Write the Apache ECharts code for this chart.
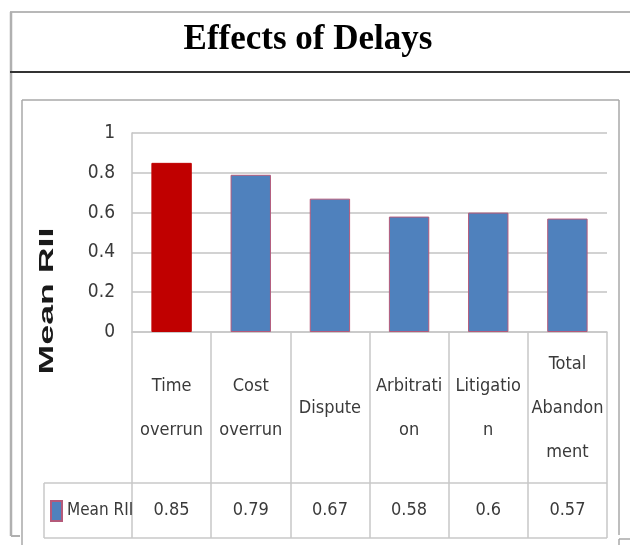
<!DOCTYPE html>
<html>
<head>
<meta charset="utf-8">
<script src="https://cdn.jsdelivr.net/npm/echarts@6/dist/echarts.min.js"></script>
<style>
  html, body { margin: 0; padding: 0; background: #ffffff; }
  #chart { width: 630px; height: 545px; }
</style>
</head>
<body>
<div id="chart"></div>
<script>
// ---- data ----
const chartTitle = 'Effects of Delays';
const axisTitle = 'Mean RII';
const seriesName = 'Mean RII';
const categories = ['Time\noverrun', 'Cost\noverrun', 'Dispute', 'Arbitrati\non', 'Litigatio\nn', 'Total\nAbandon\nment'];
const meanRII = [0.85, 0.79, 0.67, 0.58, 0.6, 0.57];
const yTicks = [0, 0.2, 0.4, 0.6, 0.8, 1];

// ---- styles ----
const highlightIndex = 0;
const highlightColor = '#C00000';
const barColor = '#4F81BD';
const narrowFont = "'Liberation Sans Narrow', 'DejaVu Sans Condensed', 'Roboto Condensed', 'Liberation Sans', sans-serif";
const textColor = '#3a3a3a';
const tableLine = '#c8c8c8';
const frameLine = '#a8a8a8';
const labelSize = 18;

const chart = echarts.init(document.getElementById('chart'), null, { renderer: 'canvas' });

const barData = meanRII.map((v, i) => i === highlightIndex
  ? { value: v, itemStyle: { color: highlightColor, borderColor: highlightColor } }
  : { value: v });

const option = {
  backgroundColor: '#ffffff',
  animation: false,
  title: {
    text: chartTitle,
    left: 308,
    textAlign: 'center',
    top: 22,
    padding: 0,
    textStyle: { fontFamily: "'Liberation Serif', 'DejaVu Serif', serif", fontWeight: 'bold', fontSize: 35, color: '#000000' }
  },
  legend: {
    data: [seriesName],
    left: 50,
    top: 500,
    padding: 0,
    itemWidth: 11,
    itemHeight: 20,
    itemGap: 5,
    icon: 'rect',
    textStyle: { fontFamily: narrowFont, fontSize: 17, color: textColor, padding: [0, 0, 0, 0] }
  },
  grid: { left: 132, right: 23, top: 133, bottom: 213, containLabel: false },
  xAxis: [
    {
      type: 'category',
      data: categories,
      position: 'bottom',
      axisLine: { show: true, lineStyle: { color: tableLine, width: 1.5 } },
      axisTick: { show: true, length: 206, lineStyle: { color: tableLine, width: 1.5 } },
      axisLabel: {
        interval: 0,
        margin: 76,
        verticalAlign: 'middle',
        align: 'center',
        lineHeight: 44,
        fontFamily: narrowFont,
        fontSize: labelSize,
        color: textColor
      },
      splitLine: { show: false }
    },
    {
      type: 'category',
      data: meanRII.map(v => String(v)),
      position: 'bottom',
      axisLine: { show: false },
      axisTick: { show: false },
      axisLabel: {
        interval: 0,
        margin: 178,
        verticalAlign: 'middle',
        align: 'center',
        fontFamily: narrowFont,
        fontSize: labelSize,
        color: textColor
      },
      splitLine: { show: false }
    }
  ],
  yAxis: {
    type: 'value',
    min: yTicks[0],
    max: yTicks[yTicks.length - 1],
    interval: yTicks[1] - yTicks[0],
    axisLine: { show: true, lineStyle: { color: '#c4c4c4', width: 1.5 } },
    axisTick: { show: false },
    axisLabel: { margin: 17, fontFamily: narrowFont, fontSize: labelSize + 1, color: textColor },
    splitLine: { show: true, lineStyle: { color: '#d2d2d2', width: 2 } }
  },
  series: [
    {
      name: seriesName,
      type: 'bar',
      xAxisIndex: 0,
      barWidth: '51%',
      data: barData,
      itemStyle: { color: barColor, borderColor: '#b45a7a', borderWidth: 1 }
    }
  ],
  graphic: [
    // outer frame
    { type: 'line', shape: { x1: 10, y1: 12, x2: 630, y2: 12 }, style: { stroke: '#b8b8b8', lineWidth: 2 } },
    { type: 'line', shape: { x1: 11, y1: 12, x2: 11, y2: 536 }, style: { stroke: '#b0b0b0', lineWidth: 2.5 } },
    { type: 'line', shape: { x1: 11, y1: 536, x2: 20, y2: 536 }, style: { stroke: '#b0b0b0', lineWidth: 2 } },
    // title separator
    { type: 'line', shape: { x1: 10, y1: 72, x2: 630, y2: 72 }, style: { stroke: '#333333', lineWidth: 2 } },
    // inner frame
    { type: 'line', shape: { x1: 22, y1: 100, x2: 619, y2: 100 }, style: { stroke: frameLine, lineWidth: 1.5 } },
    { type: 'line', shape: { x1: 22, y1: 100, x2: 22, y2: 545 }, style: { stroke: frameLine, lineWidth: 1.5 } },
    { type: 'line', shape: { x1: 619, y1: 100, x2: 619, y2: 535 }, style: { stroke: frameLine, lineWidth: 1.5 } },
    { type: 'line', shape: { x1: 619, y1: 539, x2: 630, y2: 539 }, style: { stroke: frameLine, lineWidth: 1.5 } },
    { type: 'line', shape: { x1: 619, y1: 539, x2: 619, y2: 545 }, style: { stroke: frameLine, lineWidth: 1.5 } },
    // data table rows
    { type: 'line', shape: { x1: 44, y1: 483, x2: 607, y2: 483 }, style: { stroke: tableLine, lineWidth: 1.5 } },
    { type: 'line', shape: { x1: 44, y1: 538, x2: 607, y2: 538 }, style: { stroke: tableLine, lineWidth: 1.5 } },
    { type: 'line', shape: { x1: 44, y1: 483, x2: 44, y2: 538 }, style: { stroke: tableLine, lineWidth: 1.5 } },
    // y axis title
    {
      type: 'text',
      x: 47,
      y: 301,
      rotation: Math.PI / 2,
      scaleX: 1.7,
      style: {
        text: axisTitle,
        font: "bold 21px 'Liberation Sans', Arial, sans-serif",
        fill: '#1a1a1a',
        align: 'center',
        verticalAlign: 'middle'
      }
    }
  ]
};

chart.setOption(option);
</script>
</body>
</html>
